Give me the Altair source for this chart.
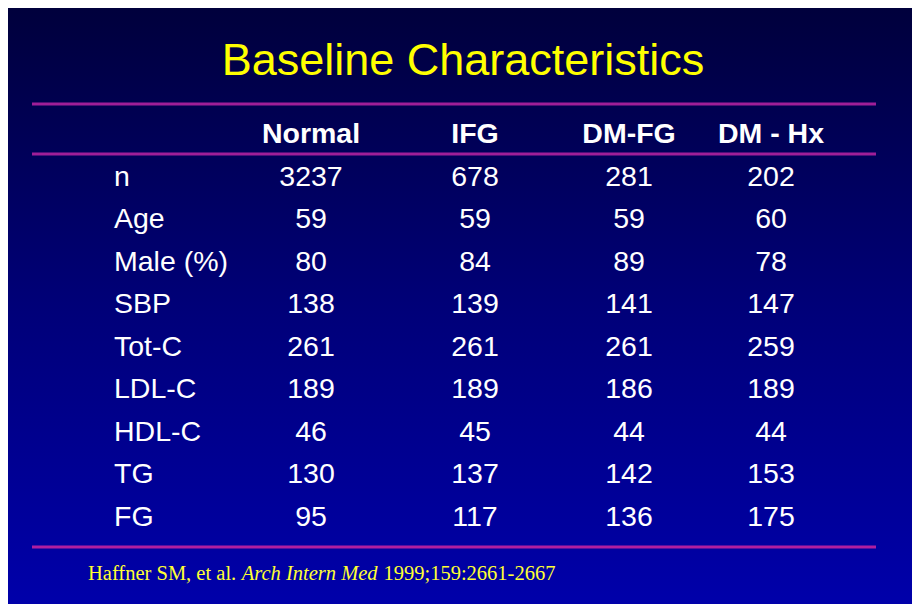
import altair as alt
import pandas as pd

# ---- data ----
title_text = "Baseline Characteristics"
groups = ["Normal", "IFG", "DM-FG", "DM - Hx"]
row_labels = ["n", "Age", "Male (%)", "SBP", "Tot-C", "LDL-C", "HDL-C", "TG", "FG"]
normal = [3237, 59, 80, 138, 261, 189, 46, 130, 95]
ifg = [678, 59, 84, 139, 261, 189, 45, 137, 117]
dm_fg = [281, 59, 89, 141, 261, 186, 44, 142, 136]
dm_hx = [202, 60, 78, 147, 259, 189, 44, 153, 175]
source_parts = ["Haffner SM, et al.", "Arch Intern Med", "1999;159:2661-2667"]

# ---- layout (page offset of 8px is subtracted) ----
OFF = 8
W, H = 904, 596
LABEL_X = 114 - OFF
COL_X = [311 - OFF, 475 - OFF, 629 - OFF, 771 - OFF]
ROW_BASE_TOP, ROW_BASE_BOT = 143 - OFF, 526 - OFF
LINE_X1, LINE_X2 = 32 - OFF, 876 - OFF
LINE_YS = [104 - OFF, 154 - OFF, 547 - OFF]
FONT = "Liberation Sans"
SERIF = "Liberation Serif"
BODY = 28.5

series = [normal, ifg, dm_fg, dm_hx]
y_domain = ["__header__"] + row_labels
yscale = alt.Scale(type="point", domain=y_domain, range=[ROW_BASE_TOP, ROW_BASE_BOT], padding=0)

recs = []
for g, vals in zip(groups, series):
    for r, v in zip(row_labels, vals):
        recs.append({"group": g, "row": r, "val": str(v)})
df = pd.DataFrame(recs)
df_lab = pd.DataFrame({"row": row_labels})
df_head = pd.DataFrame({"group": groups, "row": ["__header__"] * len(groups)})

bg = alt.Chart(pd.DataFrame({"a": [0]})).mark_rect(
    fill=alt.LinearGradient(
        gradient="linear",
        stops=[alt.GradientStop(color="#00003c", offset=0),
               alt.GradientStop(color="#000078", offset=0.5),
               alt.GradientStop(color="#0000aa", offset=1)],
        x1=0, x2=0, y1=0, y2=1),
).encode(x=alt.value(0), x2=alt.value(W), y=alt.value(0), y2=alt.value(H))

layers = [bg]

# horizontal rules
for i, ly in enumerate(LINE_YS):
    layers.append(
        alt.Chart(pd.DataFrame({"a": [0]})).mark_rule(
            color="#b01ea0" if i == 2 else "#a01e98", strokeWidth=3
        ).encode(x=alt.value(LINE_X1), x2=alt.value(LINE_X2), y=alt.value(ly))
    )

def txt(data, text_field, x, color, size, weight="normal", align="center", font=FONT):
    return alt.Chart(data).mark_text(
        font=font, fontSize=size, fontWeight=weight, color=color,
        align=align, baseline="alphabetic"
    ).encode(
        x=alt.value(x),
        y=alt.Y("row:N", scale=yscale, axis=None),
        text=alt.Text(text_field),
    )

# row labels
layers.append(txt(df_lab, "row:N", LABEL_X, "white", BODY, align="left"))
# column headers and values
for g, cx in zip(groups, COL_X):
    layers.append(txt(df_head[df_head.group == g], "group:N", cx, "white", BODY, weight="bold"))
    layers.append(txt(df[df.group == g], "val:N", cx, "white", BODY))

# title
layers.append(
    alt.Chart(pd.DataFrame({"t": [title_text]})).mark_text(
        font=FONT, fontSize=45, color="#ffff00", align="center", baseline="alphabetic"
    ).encode(x=alt.value(463 - OFF), y=alt.value(75 - OFF), text="t:N")
)

# source footnote (mixed italic)
FS = 20.5
x0 = 88 - OFF
x1 = x0 + 7.498 * FS
x2 = x1 + 6.915 * FS
for part, px, style in zip(source_parts, [x0, x1, x2], ["normal", "italic", "normal"]):
    layers.append(
        alt.Chart(pd.DataFrame({"t": [part]})).mark_text(
            font=SERIF, fontSize=FS, fontStyle=style, color="#ffff33", align="left",
            baseline="alphabetic"
        ).encode(x=alt.value(px), y=alt.value(580 - OFF), text="t:N")
    )

chart = alt.layer(*layers).properties(
    width=W, height=H, padding=0, autosize=alt.AutoSizeParams(type="none"),
    background="#000060",
).configure_view(strokeWidth=0)

chart.save("out.html", embed_options={"renderer": "svg", "actions": False})
